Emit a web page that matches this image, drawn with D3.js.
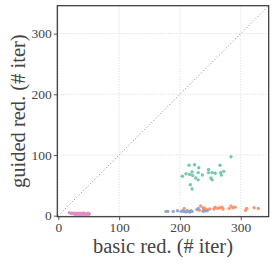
<!DOCTYPE html>
<html>
<head>
<meta charset="utf-8">
<script src="https://cdn.jsdelivr.net/npm/d3@7"></script>
<style>
  body { margin: 0; background: #fff; }
  svg text { font-family: "Liberation Serif", serif; fill: #444; }
</style>
</head>
<body>
<div id="chart"></div>
<script>
// groups of points, [basic, guided]
var green = [[204,65],[210,69],[216,68],[215,83],[224,84],[220,72],[221,66],[231,79],[230,71],[226,62],[230,59],[237,67],
  [217,51],[220,44],[247,76],[247,71],[253,71],[258,70],[251,62],[253,59],[266,83],[267,71],[268,67],[272,73],[284,97]]
var orange = [[207,12],[218,8],[232,9],[234,16],[238,13],[239,9],[241,12],[245,10],[249,11],[256,11],[258,14],[262,12],
  [266,13],[269,14],[271,11],[281,12],[284,16],[287,13],[291,14],[308,9],[310,12],[322,13],[329,12]]
var blue = [[177,7],[180,7],[189,7],[196,8],[202,7],[205,8],[207,7],[210,6],[213,7],[216,6],[218,7],[220,7],[212,8],
  [228,10],[230,12],[238,7],[241,8],[245,8]]
var pink = [[18,5],[21,4],[23,4],[25,3],[27,4],[28,2],[29,3],[30,2],[32,4],[33,3],[34,3],[35,2],[36,4],[38,3],[39,2],
  [40,4],[41,3],[42,4],[43,2],[44,3],[45,3],[46,2],[48,3],[49,4],[50,2],[51,3]]
var groups = [
  { color: '#66c2a5', pts: green },
  { color: '#fc8d62', pts: orange },
  { color: '#8da0cb', pts: blue },
  { color: '#e78ac3', pts: pink }
]
var ticks = [0, 100, 200, 300]
var domain = [-1.7, 346]

var width = 274, height = 264
var mLeft = 57.3, mRight = 268.7, mTop = 5.7, mBottom = 216.7

var svg = d3.select('#chart').append('svg')
  .attr('width', width)
  .attr('height', height)

var x = d3.scaleLinear().domain(domain).range([mLeft, mRight])
var y = d3.scaleLinear().domain(domain).range([mBottom, mTop])

// grid
svg.append('g').selectAll('line')
  .data(ticks)
  .enter().append('line')
  .attr('x1', d => x(d)).attr('x2', d => x(d))
  .attr('y1', mTop).attr('y2', mBottom)
  .attr('stroke', '#e0e0e0').attr('stroke-width', 0.8).attr('stroke-dasharray', '1.5,1.2')
svg.append('g').selectAll('line')
  .data(ticks)
  .enter().append('line')
  .attr('y1', d => y(d)).attr('y2', d => y(d))
  .attr('x1', mLeft).attr('x2', mRight)
  .attr('stroke', '#e0e0e0').attr('stroke-width', 0.8).attr('stroke-dasharray', '1.5,1.2')

// diagonal
svg.append('line')
  .attr('x1', x(0)).attr('y1', y(0))
  .attr('x2', x(domain[1])).attr('y2', y(domain[1]))
  .attr('stroke', '#999').attr('stroke-width', 1).attr('stroke-dasharray', '1.2,2')

// points
groups.forEach(g => {
  svg.append('g').selectAll('circle')
    .data(g.pts)
    .enter().append('circle')
    .attr('cx', d => x(d[0]))
    .attr('cy', d => y(d[1]))
    .attr('r', 1.7)
    .attr('fill', g.color)
    .attr('fill-opacity', 0.9)
})

// axes
var xAxis = svg.append('g')
  .attr('transform', 'translate(0,' + mBottom + ')')
  .call(d3.axisBottom(x).tickValues(ticks).tickSize(3.5).tickPadding(2))
var yAxis = svg.append('g')
  .attr('transform', 'translate(' + mLeft + ',0)')
  .call(d3.axisLeft(y).tickValues(ticks).tickSize(3.5).tickPadding(2))
;[xAxis, yAxis].forEach(a => {
  a.attr('font-family', null).attr('font-size', null)
  a.select('.domain').remove()
  a.selectAll('.tick line').attr('stroke', '#333').attr('stroke-width', 0.8)
  a.selectAll('.tick text').attr('font-size', '13.5px').attr('fill', '#444')
})

// frame
svg.append('rect')
  .attr('x', mLeft).attr('y', mTop)
  .attr('width', mRight - mLeft).attr('height', mBottom - mTop)
  .attr('fill', 'none').attr('stroke', '#333').attr('stroke-width', 1.2)

// labels
svg.append('text')
  .attr('x', (mLeft + mRight) / 2).attr('y', 253)
  .attr('text-anchor', 'middle')
  .attr('font-size', '20.5px')
  .text('basic red. (# iter)')
svg.append('text')
  .attr('transform', 'translate(25,' + (mTop + mBottom) / 2 + ') rotate(-90)')
  .attr('text-anchor', 'middle')
  .attr('font-size', '20.5px')
  .text('guided red. (# iter)')
</script>
</body>
</html>
